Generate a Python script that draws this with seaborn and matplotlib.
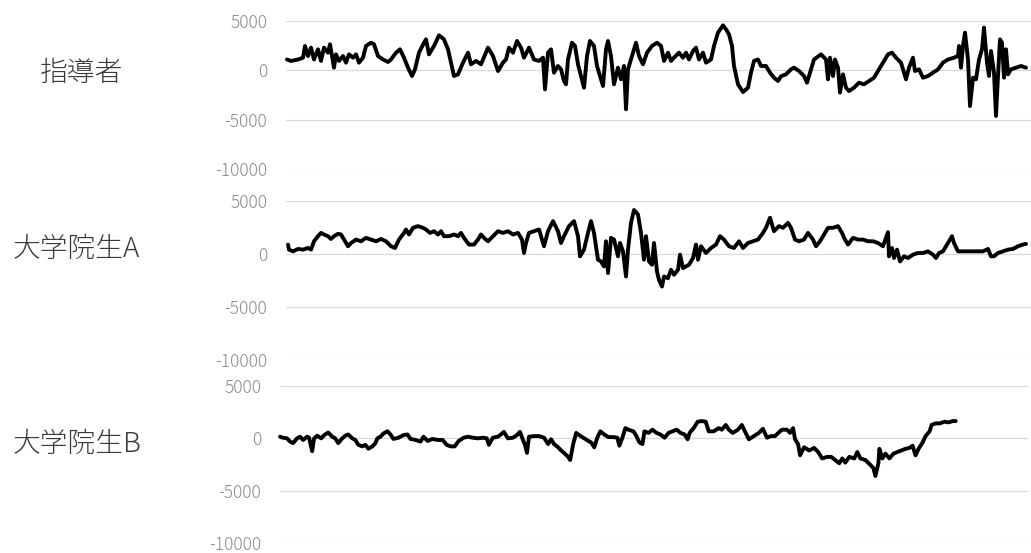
import matplotlib
matplotlib.use("Agg")
import matplotlib.pyplot as plt
import seaborn as sns
import pandas as pd

# Row labels (one per recorded person)
names = ["指導者", "大学院生A", "大学院生B"]

# 指導者: time positions and signal values
t_leader = [1, 5, 12, 17, 19, 22, 25, 28, 32, 35, 38, 42, 44, 48, 50, 53, 57, 60, 63, 67,
            70, 73, 77, 80, 85, 88, 92, 97, 102, 105, 110, 114, 118, 122, 126, 129, 133, 138, 140, 143,
            148, 153, 158, 162, 165, 168, 172, 177, 182, 185, 190, 195, 202, 207, 212, 217, 220, 223, 227, 231,
            235, 238, 243, 248, 253, 257, 259, 262, 265, 268, 272, 275, 278, 280, 282, 286, 289, 292, 295, 298,
            301, 304, 308, 311, 314, 317, 320, 322, 325, 328, 332, 335, 338, 340, 342, 346, 350, 353, 357, 361,
            366, 371, 375, 378, 382, 385, 388, 393, 397, 400, 403, 407, 410, 413, 417, 420, 425, 428, 432, 437,
            440, 443, 446, 448, 452, 457, 462, 465, 468, 472, 475, 480, 484, 488, 492, 495, 500, 505, 508, 513,
            518, 521, 524, 528, 535, 540, 542, 544, 547, 549, 552, 554, 557, 560, 563, 568, 573, 578, 583, 588,
            592, 597, 602, 606, 610, 615, 620, 623, 627, 629, 633, 637, 642, 647, 652, 657, 662, 668, 672, 673,
            675, 677, 679, 682, 684, 687, 690, 693, 696, 698, 701, 703, 705, 708, 710, 712, 714, 716, 718, 720,
            722, 725, 730, 735, 740]
v_leader = [1100, 950, 1100, 1280, 2470, 1450, 2300, 1100, 2130, 950, 2300, 1790, 2640, 270, 1620, 950, 1450, 780, 1620, 1280,
            1620, 780, 1280, 2470, 2800, 2640, 1450, 1100, 845, 1100, 1790, 2130, 1280, 270, -575, 100, 1790, 2800, 3140, 1620,
            2470, 3550, 3140, 2130, 780, -575, -405, 780, 1790, 610, 950, 610, 2300, 1450, -70, 780, 1100, 2300, 1790, 2975,
            2300, 1280, 2300, 1100, 950, 1280, -1930, 1790, 2130, -235, 440, 100, -1080, -1420, 1100, 2800, 2470, 610, -575, -1760,
            1450, 2975, 2470, 440, -575, -1590, 2130, 2975, 1450, -1420, 270, -910, 440, -3950, 100, 1450, 2800, 1450, 610, 1790,
            2470, 2800, 2470, 950, 1790, 950, 1280, 1790, 1280, 1790, 1100, 1960, 2300, 1100, 1790, 780, 1100, 2470, 3820, 4560,
            4160, 3650, 2470, 440, -1420, -2200, -1760, -235, 950, 1100, 440, 440, -235, -745, -1080, -600, -405, 100, 270, -70,
            -575, -1250, -235, 1100, 1620, 1100, -910, 1280, -575, 1100, 270, -2260, -405, -1760, -2100, -1760, -1250, -1420, -1080, -745,
            -70, 780, 1620, 1790, 1280, 780, -910, 270, 1280, -70, 100, -745, -575, -235, 100, 780, 1100, 1280, 1450, 2470,
            270, 2470, 3820, 1100, -3620, -745, -910, 1100, 2130, 4330, 780, -575, 1960, -235, -4630, -575, 3140, 2800, -745, 2130,
            -405, 100, 270, 440, 270]

# 大学院生A
t_student_a = [2, 3, 7, 12, 17, 22, 25, 28, 32, 35, 38, 42, 45, 48, 52, 55, 58, 62, 65, 70,
               75, 80, 85, 90, 95, 100, 105, 109, 113, 118, 120, 123, 127, 132, 137, 140, 144, 148, 152, 155,
               158, 163, 168, 172, 175, 178, 183, 188, 192, 195, 198, 202, 207, 212, 217, 222, 227, 232, 236, 238,
               240, 243, 248, 253, 258, 262, 267, 272, 275, 278, 283, 288, 292, 294, 298, 302, 305, 308, 312, 315,
               318, 320, 322, 325, 328, 332, 334, 337, 340, 342, 345, 348, 352, 355, 358, 360, 363, 366, 368, 371,
               373, 376, 378, 382, 385, 388, 392, 394, 397, 400, 403, 407, 410, 412, 415, 420, 425, 430, 434, 438,
               443, 448, 453, 457, 462, 467, 472, 477, 480, 484, 488, 493, 497, 502, 505, 509, 513, 518, 522, 527,
               530, 534, 538, 542, 547, 552, 556, 559, 562, 567, 572, 577, 582, 587, 592, 597, 600, 602, 603, 606,
               608, 611, 614, 618, 622, 627, 632, 637, 642, 647, 650, 653, 657, 660, 663, 666, 668, 672, 677, 682,
               687, 692, 697, 702, 705, 708, 712, 717, 722, 727, 732, 737, 740]
v_student_a = [890, 410, 250, 475, 410, 570, 410, 1200, 1680, 1990, 1840, 1680, 1420, 1680, 1900, 1840, 1360, 730, 1040, 1360,
               1200, 1520, 1360, 1200, 1420, 1200, 730, 570, 1360, 1990, 2310, 1840, 2470, 2630, 2470, 2310, 1990, 2150, 1840, 2150,
               1680, 1680, 1840, 1680, 1990, 1520, 890, 890, 1360, 1840, 1520, 1200, 1680, 2150, 1990, 2150, 1840, 1990, 1360, 95,
               1040, 1990, 2150, 2310, 730, 2150, 3100, 2150, 1040, 1680, 2630, 3100, 1680, -220, 410, 1990, 3100, 1990, -540, -700,
               -1170, 1200, -1800, 1520, 1360, -220, 1040, 250, -2120, 410, 2940, 4150, 3730, 1990, -540, 1680, -700, -1010, 1040, -1650,
               -2440, -3070, -2120, -2280, -1490, -1960, -1490, -60, -1330, -1170, -1010, -380, 890, -540, 730, 95, 570, 890, 1680, 1360,
               730, 570, 1200, 570, 1040, 1200, 1360, 1990, 2470, 3420, 2150, 2630, 2470, 2940, 2470, 1360, 1200, 1360, 1990, 1360,
               730, 1200, 1840, 2470, 2470, 2630, 1990, 1360, 890, 1520, 1360, 1360, 1200, 1200, 1040, 730, 1520, 2060, -220, 570,
               -380, 410, -700, -220, -380, -60, 95, 95, 250, -60, -380, 95, 250, 730, 1200, 1680, 1040, 250, 250, 250,
               250, 250, 250, 475, -220, -220, 95, 250, 410, 475, 730, 890, 950]

# 大学院生B
t_student_b = [0, 3, 7, 10, 13, 17, 20, 23, 27, 29, 32, 34, 37, 41, 44, 48, 52, 55, 58, 62,
               65, 68, 72, 75, 78, 82, 85, 88, 92, 95, 97, 100, 103, 107, 110, 113, 118, 123, 127, 130,
               135, 140, 143, 147, 152, 157, 162, 166, 170, 174, 178, 183, 187, 192, 197, 202, 206, 208, 212, 217,
               220, 223, 227, 232, 236, 239, 242, 244, 246, 248, 253, 258, 263, 267, 270, 273, 277, 280, 283, 287,
               289, 292, 295, 298, 302, 307, 310, 313, 316, 319, 323, 327, 332, 336, 338, 341, 344, 347, 352, 355,
               358, 361, 363, 367, 371, 375, 379, 383, 387, 391, 395, 399, 403, 406, 408, 412, 416, 420, 424, 427,
               432, 437, 440, 444, 447, 451, 456, 460, 463, 467, 472, 477, 481, 485, 489, 493, 498, 500, 505, 508,
               511, 513, 516, 518, 522, 527, 532, 536, 540, 545, 549, 553, 557, 560, 563, 567, 572, 575, 578, 583,
               587, 591, 593, 596, 597, 600, 603, 607, 611, 615, 619, 623, 627, 630, 633, 636, 640, 643, 647, 649,
               653, 657, 662, 666, 670, 673]
v_student_b = [155, 60, 0, -310, -460, 0, 155, -155, 155, 60, -1230, 0, 250, 0, 310, 555, 155, 0, -460, 0,
               250, 370, 0, -155, -620, -770, -620, -990, -770, -460, 0, 155, 460, 680, 370, -60, 60, 310, 370, -60,
               -155, -310, 155, -250, -60, -155, -155, -620, -770, -770, -250, 60, 155, 60, 0, 60, 0, -620, 60, 155,
               370, 620, 0, 60, 310, 620, -155, -620, -1390, 155, 215, 215, 60, -550, -90, -550, -855, -1160, -1400, -1770,
               -2070, -550, 520, 305, 60, -245, -400, -855, 60, 670, 365, 120, 120, 60, -700, 60, 975, 825, 670, 215,
               -400, -550, 670, 520, 825, 520, 365, 60, 520, 670, 825, 520, 365, -90, 520, 975, 1590, 1650, 1590, 670,
               670, 975, 825, 1280, 825, 520, 825, 1280, 670, -90, 215, 520, 915, 60, 215, 215, 670, 825, 825, 520,
               975, -90, -550, -1620, -855, -1160, -915, -1310, -1920, -1770, -1770, -2070, -2380, -1920, -2320, -1770, -1920, -1310, -1920, -2070,
               -2440, -2840, -3600, -2380, -1000, -1920, -1460, -1920, -1460, -1310, -1160, -1000, -915, -700, -1620, -1000, -400, 215, 670, 1280,
               1430, 1430, 1590, 1525, 1650, 1650]

y_ticks = [5000, 0, -5000, -10000]
y_tick_labels = ["5000", "0", "-5000", "-10000"]

series = [(t_leader, v_leader), (t_student_a, v_student_a), (t_student_b, v_student_b)]

sns.set_theme(style="white")
plt.rcParams["font.family"] = ["Noto Sans CJK JP", "DejaVu Sans"]

fig = plt.figure(figsize=(10.31, 5.53), dpi=100)

# panel rectangles [left, bottom, width, height] in figure fractions
rects = [
    [286 / 1031, 1 - 169 / 553, 745 / 1031, 148 / 553],
    [286 / 1031, 1 - 360 / 553, 745 / 1031, 159 / 553],
    [280 / 1031, 1 - 543 / 553, 748 / 1031, 157 / 553],
]
label_pos = [(82, 73), (76, 249), (77, 444)]

for (t, v), rect, name, (lx, ly) in zip(series, rects, names, label_pos):
    ax = fig.add_axes(rect)
    df = pd.DataFrame({"t": t, "value": v})
    sns.lineplot(data=df, x="t", y="value", ax=ax, color="black", linewidth=2.8,
                 estimator=None, sort=False, clip_on=False)
    ax.set_xlim(0, 745)
    ax.set_ylim(-10000, 5000)
    ax.set_yticks(y_ticks)
    ax.set_yticklabels(y_tick_labels)
    ax.set_xticks([])
    ax.set_xlabel("")
    ax.set_ylabel("")
    for s in ax.spines.values():
        s.set_visible(False)
    ax.set_facecolor("none")
    ax.yaxis.grid(True, color="#d9d9d9", linewidth=0.9)
    ax.set_axisbelow(True)
    ax.tick_params(axis="y", length=0, pad=13.5, labelsize=12.5, labelcolor="#8c8c8c")
    for lab in ax.get_yticklabels():
        lab.set_fontweight("light")
    fig.text(lx / 1031, 1 - ly / 553, name, ha="center", va="center",
             fontsize=20, color="#3a3a3a", fontweight="light")

fig.savefig("out.png", dpi=100)
